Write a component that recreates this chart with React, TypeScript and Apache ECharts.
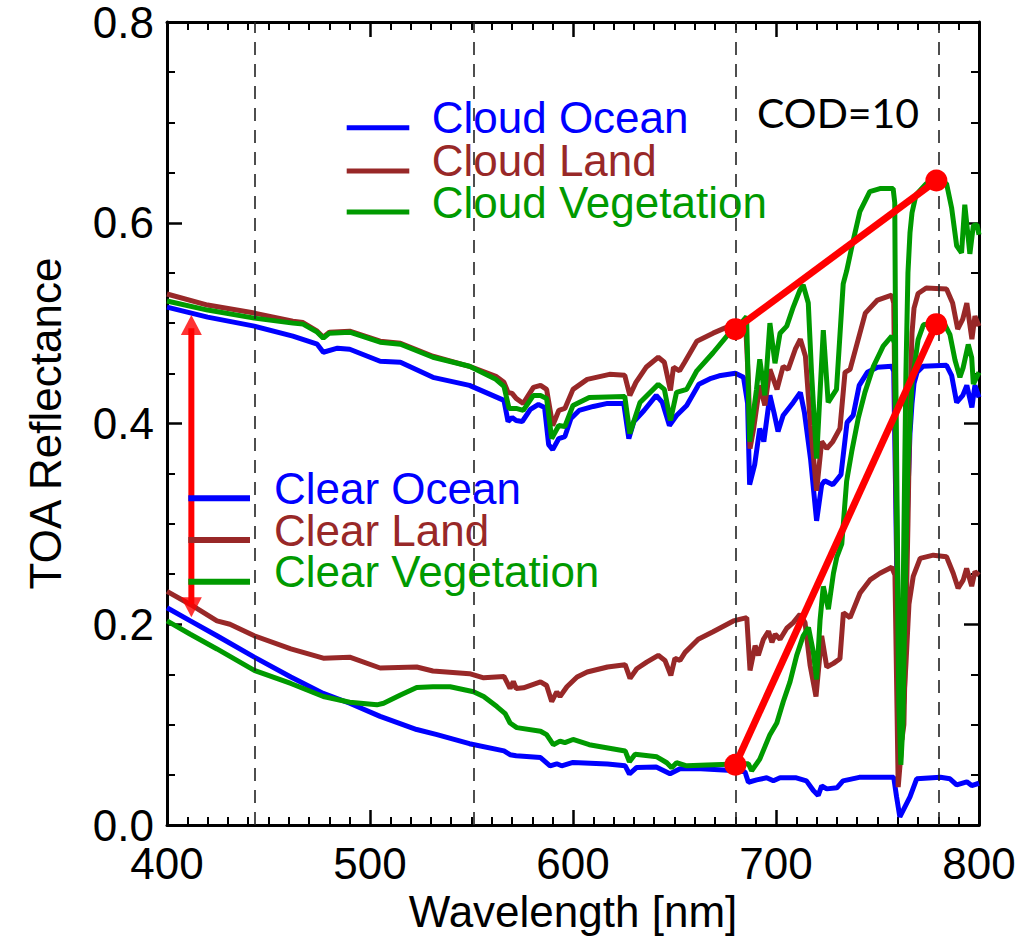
import React, { useEffect, useRef } from "react";
import * as echarts from "echarts";

type P = [number, number];

// ---- Cloudy spectra (COD = 10) ----
const cloudOcean: P[] = [
  [400, 0.516], [420, 0.506], [443, 0.497], [462, 0.487], [474, 0.479], [477, 0.471], [484, 0.475],
  [490, 0.474], [505, 0.462], [515, 0.461], [531, 0.446], [549, 0.438], [566, 0.423], [568, 0.402],
  [570, 0.406], [572, 0.403], [575, 0.402], [579, 0.414], [583, 0.419], [586, 0.416], [588, 0.379],
  [590, 0.374], [593, 0.385], [596, 0.387], [599, 0.405], [603, 0.413], [610, 0.417], [617, 0.42],
  [625, 0.42], [627.5, 0.385], [630, 0.402], [635, 0.413], [641, 0.428], [644, 0.421], [647.5, 0.398],
  [651, 0.408], [656, 0.418], [662, 0.439], [668, 0.445], [672, 0.4475], [680, 0.45], [684, 0.446],
  [686, 0.42], [687, 0.339], [689.5, 0.359], [692, 0.395], [694, 0.382], [697, 0.428], [699, 0.411],
  [701, 0.392], [703.5, 0.408], [708.5, 0.421], [712, 0.431], [714, 0.411], [717, 0.365], [720, 0.303],
  [722.5, 0.339], [724, 0.343], [728, 0.339], [732, 0.349], [735, 0.401], [738, 0.408], [741, 0.438],
  [745, 0.451], [750, 0.456], [757, 0.457], [758, 0.452], [759, 0.32], [760, 0.18], [761, 0.09],
  [762, 0.1], [763, 0.18], [764, 0.25], [765, 0.33], [766, 0.39], [767, 0.42], [768, 0.44],
  [769.5, 0.451], [772.5, 0.457], [784, 0.458], [786.5, 0.448], [789, 0.421], [792, 0.428],
  [794, 0.438], [796.5, 0.416], [798, 0.438], [800, 0.426],
];

const cloudLand: P[] = [
  [400, 0.529], [420, 0.518], [443, 0.51], [462, 0.502], [467, 0.5006], [474, 0.492], [477, 0.486],
  [480, 0.491], [490, 0.492], [505, 0.482], [515, 0.48], [531, 0.467], [549, 0.457], [562, 0.447],
  [566, 0.441], [568, 0.431], [570, 0.43], [572, 0.425], [575.5, 0.42], [580.5, 0.436], [584, 0.438],
  [587, 0.434], [590, 0.398], [593, 0.413], [596, 0.415], [600, 0.434], [607, 0.444], [618, 0.449],
  [625.5, 0.448], [628, 0.428], [631, 0.441], [636, 0.456], [642, 0.466], [645, 0.461], [648, 0.433],
  [649.5, 0.456], [652.5, 0.4525], [655, 0.461], [661, 0.482], [669, 0.49], [677, 0.497], [681, 0.5],
  [685, 0.5], [686.5, 0.4377], [687.2, 0.375], [689, 0.395], [692, 0.438], [694.5, 0.418], [697, 0.454],
  [700.5, 0.434], [703.5, 0.457], [706, 0.454], [709.5, 0.474], [712, 0.484], [714.5, 0.467],
  [717, 0.398], [720, 0.333], [722.5, 0.382], [725, 0.375], [728, 0.382], [731.5, 0.395], [734, 0.451],
  [736.5, 0.454], [740, 0.48], [744, 0.51], [750, 0.523], [757, 0.528], [758, 0.52], [759, 0.35],
  [760, 0.2], [761, 0.12], [762, 0.085], [763, 0.1], [764, 0.2], [765, 0.3], [766, 0.42], [767, 0.49],
  [768, 0.515], [770, 0.5295], [774, 0.535], [784, 0.534], [787, 0.52], [789.5, 0.494], [792, 0.504],
  [794, 0.52], [796.5, 0.484], [798, 0.507], [800, 0.497],
];

const cloudVegetation: P[] = [
  [400, 0.522], [420, 0.513], [443, 0.505], [462, 0.5], [467, 0.499], [474, 0.491], [477, 0.485],
  [480, 0.49], [490, 0.491], [505, 0.481], [515, 0.479], [531, 0.466], [549, 0.457], [562, 0.444],
  [566, 0.437], [568.5, 0.415], [572, 0.415], [575.5, 0.413], [580.5, 0.428], [584, 0.428], [587, 0.425],
  [589.5, 0.385], [593, 0.398], [596, 0.397], [600, 0.418], [608, 0.426], [625.5, 0.427], [628, 0.39],
  [633, 0.421], [642, 0.439], [645, 0.434], [648, 0.403], [651, 0.431], [656, 0.434], [661, 0.4525],
  [669, 0.4705], [677, 0.49], [682, 0.498], [685.5, 0.5065], [687, 0.382], [690.4, 0.434],
  [692, 0.464], [694.5, 0.428], [697, 0.5], [699.5, 0.46], [702, 0.49], [705.3, 0.497], [708.5, 0.516],
  [711.8, 0.533], [713.4, 0.538], [715.9, 0.52], [717.5, 0.451], [720, 0.365], [723.3, 0.493],
  [725.7, 0.421], [729.8, 0.434], [733.1, 0.539], [734.8, 0.552], [738, 0.582], [741.3, 0.611],
  [746.2, 0.631], [751.2, 0.634], [757.7, 0.634], [758.5, 0.62], [759, 0.45], [760, 0.25], [761, 0.09],
  [762, 0.12], [763, 0.29], [764, 0.45], [765, 0.55], [766, 0.59], [767, 0.61], [769, 0.628],
  [774, 0.639], [779, 0.642], [784, 0.639], [786.5, 0.615], [789, 0.577], [791.4, 0.57], [793, 0.618],
  [795.5, 0.569], [797.2, 0.597], [799, 0.598], [800, 0.588],
];

// ---- Clear-sky spectra ----
const clearOcean: P[] = [
  [400, 0.2164], [411.5, 0.2033], [424.6, 0.1885], [443, 0.1672], [461, 0.1475], [477, 0.1311],
  [490, 0.1213], [505, 0.1082], [523, 0.0951], [533, 0.09], [549, 0.081], [566, 0.0738], [569, 0.07],
  [572, 0.069], [584, 0.0672], [588.7, 0.059], [592, 0.061], [594.4, 0.059], [600, 0.0623],
  [617, 0.0607], [625.7, 0.059], [627.8, 0.0508], [631.4, 0.0574], [641, 0.0577], [647.8, 0.051],
  [652.7, 0.056], [663, 0.056], [680.6, 0.054], [684.7, 0.053], [686.4, 0.0426], [690.5, 0.045],
  [695.4, 0.047], [698.7, 0.044], [702, 0.047], [710, 0.047], [715, 0.044], [718.4, 0.0344],
  [720.8, 0.0295], [722.5, 0.039], [725, 0.036], [730, 0.037], [733, 0.044], [741, 0.0475],
  [758, 0.0475], [759.4, 0.028], [761, 0.008], [763.5, 0.018], [766, 0.028], [769.3, 0.046],
  [781, 0.0475], [785.7, 0.046], [789, 0.04], [794, 0.043], [796.4, 0.0393], [800, 0.0416],
];

const clearLand: P[] = [
  [400, 0.2328], [411.5, 0.2197], [424.6, 0.2033], [431, 0.2], [443, 0.1885], [461, 0.1754],
  [477, 0.1662], [490, 0.1672], [505, 0.1564], [523, 0.1574], [531, 0.1534], [549, 0.1508],
  [556, 0.1466], [566, 0.148], [569, 0.136], [570.6, 0.143], [572, 0.136], [575.6, 0.1367],
  [584, 0.1426], [587, 0.139], [589.5, 0.123], [592, 0.1327], [593.6, 0.128], [597, 0.1377],
  [602, 0.1475], [607, 0.1524], [617, 0.1574], [625.7, 0.1597], [628.1, 0.146], [631.4, 0.1557],
  [636.3, 0.1623], [642, 0.169], [645.3, 0.164], [648.2, 0.149], [650.2, 0.166], [652.7, 0.164],
  [655.2, 0.172], [661.7, 0.185], [669, 0.1925], [679, 0.2033], [685.6, 0.2066], [687.2, 0.154],
  [689.7, 0.1787], [691.3, 0.169], [693.8, 0.185], [696.3, 0.193], [698, 0.182], [699.6, 0.19],
  [702, 0.185], [705.3, 0.196], [708.5, 0.2016], [711.8, 0.2098], [714.3, 0.2016], [716.8, 0.159],
  [719.7, 0.128], [722.5, 0.1885], [725, 0.1574], [728.3, 0.161], [731.5, 0.1656], [733.2, 0.2115],
  [736.5, 0.2066], [741.4, 0.2311], [746.3, 0.2442], [751.2, 0.2508], [757, 0.2567], [758.6, 0.249],
  [760.2, 0.0377], [761.5, 0.07], [762.7, 0.116], [764, 0.16], [765.5, 0.22], [767.6, 0.2476],
  [771, 0.2656], [777.5, 0.2688], [784, 0.2672], [787.3, 0.2508], [789.7, 0.236], [792.2, 0.244],
  [793.9, 0.2557], [796.4, 0.238], [798, 0.2524], [800, 0.249],
];

const clearVegetation: P[] = [
  [400, 0.2033], [411.5, 0.19], [424.6, 0.1754], [443, 0.154], [461, 0.141], [477, 0.128],
  [490, 0.1223], [503.4, 0.1197], [506.7, 0.1213], [515, 0.1295], [523, 0.137], [531, 0.1377],
  [539.5, 0.1377], [551, 0.1328], [556, 0.128], [562.5, 0.118], [566.6, 0.111], [569, 0.1016],
  [572.3, 0.097], [584, 0.0934], [587, 0.09], [590.3, 0.08], [593.6, 0.0836], [596, 0.082],
  [600, 0.0852], [608, 0.08], [625.7, 0.0738], [627.8, 0.063], [630.6, 0.0705], [641.3, 0.0679],
  [646.2, 0.062], [648.6, 0.057], [651, 0.062], [656, 0.059], [666, 0.0597], [680.6, 0.0607],
  [686.4, 0.061], [688, 0.054], [692, 0.0656], [697, 0.09], [700.4, 0.1016], [703.6, 0.123],
  [706.9, 0.1426], [710.2, 0.169], [713.4, 0.1885], [716, 0.1967], [718.4, 0.172], [720, 0.145],
  [721.7, 0.204], [723.3, 0.2377], [725.8, 0.215], [728.3, 0.2508], [730, 0.2672], [732.4, 0.28],
  [734.8, 0.3426], [737.3, 0.372], [740.5, 0.405], [743.8, 0.431], [748, 0.457], [752.8, 0.477],
  [757, 0.487], [758.5, 0.48], [759.5, 0.3], [760.5, 0.12], [761.5, 0.06], [762.5, 0.1], [763.5, 0.22],
  [765, 0.36], [767, 0.44], [770, 0.4836], [772.6, 0.4983], [782.4, 0.5016], [785.7, 0.4885],
  [788.2, 0.463], [790.6, 0.446], [792.2, 0.4557], [794.7, 0.4787], [796.4, 0.4656], [797.2, 0.4393],
  [800, 0.451],
];

// ---- Annotations ----
const dashedWavelengths = [443, 551, 680, 780];
const redUpper: P[] = [[680, 0.494], [779, 0.642]];
const redLower: P[] = [[680, 0.06], [779, 0.499]];
const arrowShaft: P[] = [[412, 0.22], [412, 0.495]];
const arrowTop: P = [412, 0.508];
const arrowBottom: P = [412, 0.207];

const cloudLegend = ["Cloud Ocean", "Cloud Land", "Cloud Vegetation"];
const clearLegend = ["Clear Ocean", "Clear Land", "Clear Vegetation"];

const BLUE = "#0000ff";
const BROWN = "#982828";
const GREEN = "#009a00";
const RED = "#ff0000";
const FONT = "Liberation Sans";

export default function App() {
  const ref = useRef<HTMLDivElement>(null);

  useEffect(() => {
    if (!ref.current) return;
    const chart = echarts.init(ref.current, null, { renderer: "svg" });

    const spectrum = (name: string, data: P[], color: string, extra: any = {}) => ({
      type: "line",
      name,
      data,
      symbol: "none",
      showSymbol: false,
      silent: true,
      lineStyle: { color, width: 5 },
      itemStyle: { color },
      ...extra,
    });

    const axisBase = {
      type: "value",
      axisLine: { show: true, onZero: false, lineStyle: { color: "#000", width: 3 } },
      axisTick: { show: true, inside: true, length: 15, lineStyle: { color: "#000", width: 2.5 } },
      splitLine: { show: false },
      minorSplitLine: { show: false },
    };

    const labelStyle = { fontSize: 44, fontFamily: FONT, color: "#000" };

    const legendColors = [BLUE, BROWN, GREEN];
    const cloudLineY = [127.7, 171, 212];
    const cloudTextY = [117.5, 160, 202.5];
    const clearLineY = [498.3, 540, 581.7];
    const clearTextY = [488.3, 530, 571.7];

    const textStyle = (text: string, fill: string, extra: any = {}) => ({
      text,
      fill,
      fontSize: 44,
      fontFamily: FONT,
      lineHeight: 36,
      verticalAlign: "middle",
      textVerticalAlign: "middle",
      ...extra,
    });

    const graphic: any[] = [];
    cloudLegend.forEach((t, i) => {
      graphic.push({
        type: "line",
        shape: { x1: 346.7, y1: cloudLineY[i], x2: 409.3, y2: cloudLineY[i] },
        style: { stroke: legendColors[i], lineWidth: 5 },
        z: 100,
      });
      graphic.push({ type: "text", x: 431.7, y: cloudTextY[i], style: textStyle(t, legendColors[i]), z: 100 });
    });
    clearLegend.forEach((t, i) => {
      graphic.push({
        type: "line",
        shape: { x1: 188.3, y1: clearLineY[i], x2: 250, y2: clearLineY[i] },
        style: { stroke: legendColors[i], lineWidth: 6 },
        z: 100,
      });
      graphic.push({ type: "text", x: 274, y: clearTextY[i], style: textStyle(t, legendColors[i]), z: 100 });
    });
    graphic.push({
      type: "text",
      x: 757,
      y: 112.5,
      style: textStyle("COD=10", "#000", { fontSize: 41, fontFamily: "Lato" }),
      z: 100,
    });

    chart.setOption({
      animation: false,
      backgroundColor: "#fff",
      grid: { left: 167, right: 51, top: 12.5, bottom: 115, containLabel: false },
      xAxis: [
        {
          ...axisBase,
          position: "bottom",
          min: 400,
          max: 800,
          interval: 100,
          minorTick: { show: true, splitNumber: 10, length: 8, lineStyle: { color: "#000", width: 2 } },
          axisLabel: { ...labelStyle, margin: 16 },
          name: "Wavelength [nm]",
          nameLocation: "middle",
          nameGap: 60,
          nameTextStyle: { ...labelStyle },
        },
        {
          ...axisBase,
          position: "top",
          min: 400,
          max: 800,
          interval: 100,
          minorTick: { show: true, splitNumber: 10, length: 8, lineStyle: { color: "#000", width: 2 } },
          axisLabel: { show: false },
        },
      ],
      yAxis: [
        {
          ...axisBase,
          position: "left",
          min: 0,
          max: 0.8,
          interval: 0.2,
          minorTick: { show: true, splitNumber: 4, length: 8, lineStyle: { color: "#000", width: 2 } },
          axisLabel: { ...labelStyle, margin: 13, lineHeight: 34, formatter: (v: number) => v.toFixed(1) },
          name: "TOA Reflectance",
          nameLocation: "middle",
          nameRotate: 90,
          nameGap: 100,
          nameTextStyle: { ...labelStyle },
        },
        {
          ...axisBase,
          position: "right",
          min: 0,
          max: 0.8,
          interval: 0.2,
          minorTick: { show: true, splitNumber: 4, length: 8, lineStyle: { color: "#000", width: 2 } },
          axisLabel: { show: false },
        },
      ],
      series: [
        spectrum("Cloud Ocean", cloudOcean, BLUE, {
          markLine: {
            silent: true,
            symbol: ["none", "none"],
            label: { show: false },
            lineStyle: { type: [13, 9], color: "#222", width: 1.6 },
            data: dashedWavelengths.map((w) => ({ xAxis: w })),
          },
        }),
        spectrum("Cloud Land", cloudLand, BROWN),
        spectrum("Cloud Vegetation", cloudVegetation, GREEN),
        spectrum("Clear Ocean", clearOcean, BLUE),
        spectrum("Clear Land", clearLand, BROWN),
        spectrum("Clear Vegetation", clearVegetation, GREEN),
        {
          type: "line",
          data: redUpper,
          symbol: "circle",
          symbolSize: 22,
          silent: true,
          lineStyle: { color: RED, width: 7 },
          itemStyle: { color: RED },
          z: 10,
        },
        {
          type: "line",
          data: redLower,
          symbol: "circle",
          symbolSize: 22,
          silent: true,
          lineStyle: { color: RED, width: 7 },
          itemStyle: { color: RED },
          z: 10,
        },
        {
          type: "line",
          data: arrowShaft,
          symbol: "none",
          silent: true,
          lineStyle: { color: RED, width: 6 },
          z: 10,
        },
        {
          type: "scatter",
          silent: true,
          symbol: "triangle",
          symbolSize: [21, 20],
          itemStyle: { color: RED },
          z: 10,
          data: [
            { value: arrowTop, symbolRotate: 0, symbolOffset: [0, 10] },
            { value: arrowBottom, symbolRotate: 180, symbolOffset: [0, -10] },
          ],
        },
      ],
      graphic,
    });

    return () => chart.dispose();
  }, []);

  return <div ref={ref} style={{ position: "absolute", left: 0, top: 0, width: 1030, height: 940 }} />;
}
